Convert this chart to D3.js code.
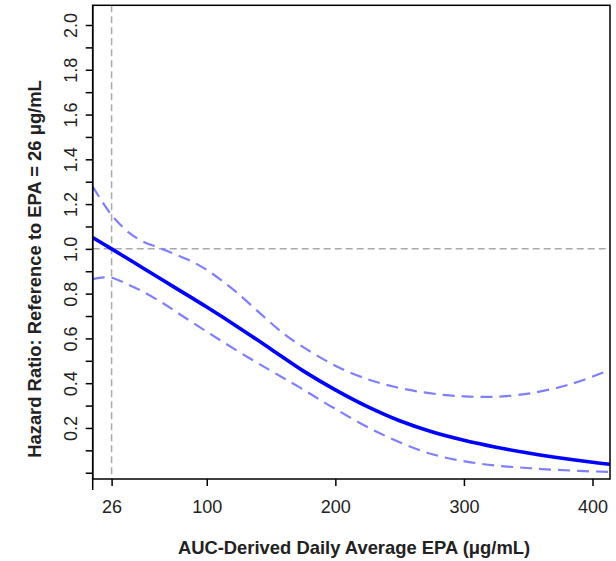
<!DOCTYPE html>
<html><head><meta charset="utf-8">
<script src="https://cdn.jsdelivr.net/npm/d3@7"></script>
<style>body{margin:0;background:#fff}svg{display:block}</style>
</head><body>
<script>
// Data
const estX = [11.3, 26, 50, 75, 100, 125, 150, 175, 200, 225, 250, 275, 300, 325, 350, 375, 400, 413.6];
const estY = [1.05, 1.00, 0.916, 0.828, 0.74, 0.648, 0.552, 0.455, 0.37, 0.295, 0.232, 0.183, 0.145, 0.114, 0.088, 0.066, 0.047, 0.038];
const upX = [11.3, 26, 40, 50.7, 63.7, 75, 88, 100, 112, 125, 144, 160, 172.6, 200, 225, 245, 265, 284, 300, 315, 330, 352, 375, 390.6, 413.6];
const upY = [1.278, 1.151, 1.07, 1.032, 1.003, 0.977, 0.945, 0.906, 0.857, 0.797, 0.699, 0.62, 0.57, 0.478, 0.418, 0.385, 0.362, 0.348, 0.341, 0.339, 0.341, 0.355, 0.383, 0.41, 0.459];
const loX = [11.3, 20, 26, 40, 50, 66, 79, 100, 125, 150, 172.6, 198.5, 235, 274, 313, 352, 390, 413.6];
const loY = [0.865, 0.873, 0.871, 0.838, 0.81, 0.757, 0.708, 0.63, 0.54, 0.455, 0.38, 0.29, 0.175, 0.085, 0.04, 0.02, 0.008, 0.004];
const xTicks = [26, 100, 200, 300, 400];
const yTicks = [0.0,0.1,0.2,0.3,0.4,0.5,0.6,0.7,0.8,0.9,1.0,1.1,1.2,1.3,1.4,1.5,1.6,1.7,1.8,1.9,2.0];
const yLabelTicks = [0.2,0.4,0.6,0.8,1.0,1.2,1.4,1.6,1.8,2.0];
const refX = 26, refY = 1.0;
const xTitle = "AUC-Derived Daily Average EPA (μg/mL)";
const yTitle = "Hazard Ratio: Reference to EPA = 26 μg/mL";

const W = 616, H = 561;
const L = 92.7, R = 610, T = 5.3, B = 479;
const svg = d3.select("body").append("svg").attr("width", W).attr("height", H);
const x = d3.scaleLinear().domain([11.3, 413.6]).range([L, R]);
const y = d3.scaleLinear().domain([-0.028, 2.088]).range([B, T]);

svg.append("defs").append("clipPath").attr("id","clip")
  .append("rect").attr("x",L).attr("y",T).attr("width",R-L).attr("height",B-T);

const g = svg.append("g").attr("clip-path","url(#clip)");
// reference lines
g.append("line").attr("x1",x(refX)).attr("x2",x(refX)).attr("y1",T).attr("y2",B)
  .attr("stroke","#aaaaaa").attr("stroke-width",1.5).attr("stroke-dasharray","7,4");
g.append("line").attr("x1",L).attr("x2",R).attr("y1",y(refY)).attr("y2",y(refY))
  .attr("stroke","#aaaaaa").attr("stroke-width",1.5).attr("stroke-dasharray","7,4");

const line = d3.line().x(d=>x(d[0])).y(d=>y(d[1])).curve(d3.curveCatmullRom.alpha(0.5));
const zip = (a,b)=>a.map((v,i)=>[v,b[i]]);
g.append("path").attr("d", line(zip(upX,upY))).attr("fill","none")
  .attr("stroke","#7f7fff").attr("stroke-width",2.2).attr("stroke-dasharray","12,7");
g.append("path").attr("d", line(zip(loX,loY))).attr("fill","none")
  .attr("stroke","#7f7fff").attr("stroke-width",2.2).attr("stroke-dasharray","12,7");
g.append("path").attr("d", line(zip(estX,estY))).attr("fill","none")
  .attr("stroke","#0000ff").attr("stroke-width",3.6);

// frame
svg.append("rect").attr("x",L).attr("y",T).attr("width",R-L).attr("height",B-T)
  .attr("fill","none").attr("stroke","#000").attr("stroke-width",1.5);
svg.append("line").attr("x1",L).attr("x2",L).attr("y1",T).attr("y2",490)
  .attr("stroke","#000").attr("stroke-width",1.5);

// x axis
const xa = svg.append("g").attr("transform",`translate(0,${B})`)
  .call(d3.axisBottom(x).tickValues(xTicks).tickSize(7).tickSizeOuter(0).tickFormat(d3.format("d")));
xa.select(".domain").remove();
xa.selectAll(".tick line").attr("stroke","#000").attr("stroke-width",1.5);
xa.selectAll(".tick text").attr("font-family","'Liberation Sans', Arial, sans-serif")
  .attr("font-size",18).attr("fill","#222").attr("dy",null).attr("y",34);

// y axis
const ya = svg.append("g").attr("transform",`translate(${L},0)`)
  .call(d3.axisLeft(y).tickValues(yTicks).tickSize(7).tickSizeOuter(0)
    .tickFormat(d => yLabelTicks.some(v=>Math.abs(v-d)<1e-9) ? d3.format(".1f")(d) : ""));
ya.select(".domain").remove();
ya.selectAll(".tick line").attr("stroke","#000").attr("stroke-width",1.5);
ya.selectAll(".tick text").attr("font-family","'Liberation Sans', Arial, sans-serif")
  .attr("font-size",18).attr("fill","#222")
  .attr("x",null).attr("dy",null).attr("text-anchor","middle")
  .attr("transform","translate(-16,0) rotate(-90)");

// titles
svg.append("text").attr("x",354).attr("y",554).attr("text-anchor","middle")
  .attr("font-family","'Liberation Sans', Arial, sans-serif").attr("font-weight","bold")
  .attr("font-size",18.4).attr("fill","#222").text(xTitle);
svg.append("text").attr("transform",`translate(41,269) rotate(-90)`).attr("text-anchor","middle")
  .attr("font-family","'Liberation Sans', Arial, sans-serif").attr("font-weight","bold")
  .attr("font-size",18.4).attr("fill","#222").text(yTitle);
</script>
</body></html>
